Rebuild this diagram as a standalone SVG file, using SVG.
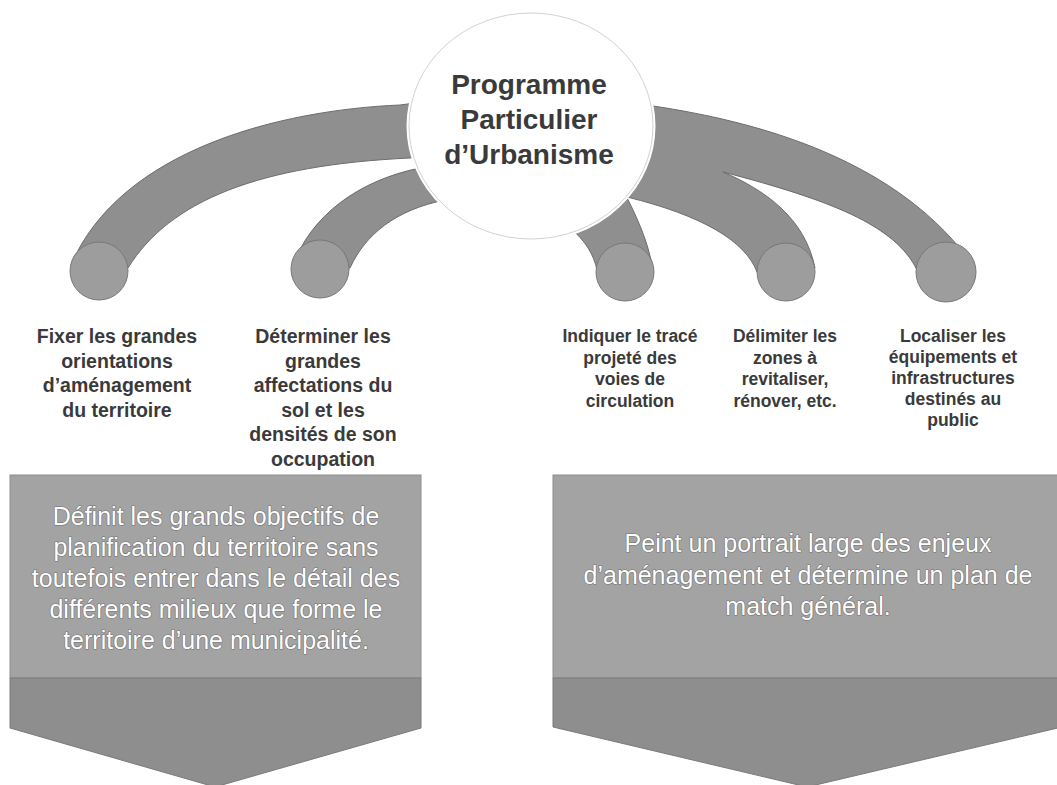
<svg xmlns="http://www.w3.org/2000/svg" width="1057" height="785" viewBox="0 0 1057 785">
  <style>
    .band { fill: #8f8f8f; stroke: #6c6c6c; stroke-width: 1; }
    .ball { fill: #9d9d9d; stroke: #787878; stroke-width: 1; }
    .lbl { font-family: "Liberation Sans", Arial, sans-serif; font-weight: bold; fill: #3a3a3a; text-anchor: middle; }
    .l1 { font-size: 19.5px; }
    .l2 { font-size: 17.5px; }
    .title { font-family: "Liberation Sans", Arial, sans-serif; font-weight: bold; font-size: 28px; fill: #3a3a3a; text-anchor: middle; }
    .boxtop { fill: #a3a3a3; stroke: #8e8e8e; stroke-width: 1; }
    .boxbot { fill: #8e8e8e; stroke: #7a7a7a; stroke-width: 1; }
    .boxtxt { font-family: "Liberation Sans", Arial, sans-serif; font-size: 25px; fill: #ffffff; stroke: #707070; stroke-width: 1.2px; paint-order: stroke; stroke-linejoin: round; text-anchor: middle; }
  </style>
  <rect width="1057" height="785" fill="#ffffff"/>

  <g id="connectors">
    <path class="band" d="M430,101 L400,105 C280,110 120,150 71,265 L128,268 C170,200 260,165 410,158 L430,157 Z"/>
    <path class="band" d="M430,167 L420,168 C360,180 310,215 292,268 L350,268 C365,235 395,210 445,200 L460,190 Z"/>
    <path class="band" d="M575,215 L622,188 C636,215 648,240 653,270 L597,270 C594,255 585,240 570,228 Z"/>
    <path class="band" d="M620,100 L653,106 C760,122 900,160 975,268 L917,270 C895,225 830,200 723,172 C765,190 805,218 815,268 L757,272 C745,240 700,215 627,197 L600,200 Z"/>
    <circle class="ball" cx="99" cy="271" r="29"/>
    <circle class="ball" cx="320" cy="269" r="29"/>
    <circle class="ball" cx="625" cy="272" r="29"/>
    <circle class="ball" cx="786" cy="272" r="29"/>
    <circle class="ball" cx="946" cy="272" r="30"/>
  </g>

  <g id="center">
    <ellipse cx="531" cy="126" rx="122" ry="113" fill="#ffffff" stroke="#ffffff" stroke-width="5"/>
    <ellipse cx="531" cy="126" rx="122" ry="113" fill="none" stroke="#d2d2d2" stroke-width="1"/>
    <text class="title" x="529" y="94">Programme</text>
    <text class="title" x="529" y="129">Particulier</text>
    <text class="title" x="529" y="164">d’Urbanisme</text>
  </g>

  <g id="label1">
    <text class="lbl l1" x="117" y="343">Fixer les grandes</text>
    <text class="lbl l1" x="117" y="367.5">orientations</text>
    <text class="lbl l1" x="117" y="392">d’aménagement</text>
    <text class="lbl l1" x="117" y="416.5">du territoire</text>
  </g>
  <g id="label2">
    <text class="lbl l1" x="323" y="343">Déterminer les</text>
    <text class="lbl l1" x="323" y="367.5">grandes</text>
    <text class="lbl l1" x="323" y="392">affectations du</text>
    <text class="lbl l1" x="323" y="416.5">sol et les</text>
    <text class="lbl l1" x="323" y="441">densités de son</text>
    <text class="lbl l1" x="323" y="465.5">occupation</text>
  </g>
  <g id="label3">
    <text class="lbl l2" x="630" y="342">Indiquer le tracé</text>
    <text class="lbl l2" x="630" y="363.5">projeté des</text>
    <text class="lbl l2" x="630" y="385">voies de</text>
    <text class="lbl l2" x="630" y="406.5">circulation</text>
  </g>
  <g id="label4">
    <text class="lbl l2" x="785" y="342">Délimiter les</text>
    <text class="lbl l2" x="785" y="363.5">zones à</text>
    <text class="lbl l2" x="785" y="385">revitaliser,</text>
    <text class="lbl l2" x="785" y="406.5">rénover, etc.</text>
  </g>
  <g id="label5">
    <text class="lbl l2" x="953" y="342">Localiser les</text>
    <text class="lbl l2" x="953" y="363">équipements et</text>
    <text class="lbl l2" x="953" y="384">infrastructures</text>
    <text class="lbl l2" x="953" y="405">destinés au</text>
    <text class="lbl l2" x="953" y="426">public</text>
  </g>

  <g id="box-left">
    <rect class="boxtop" x="10" y="475" width="411" height="203"/>
    <path class="boxbot" d="M10,678 H421 V728 L215,787 L10,728 Z"/>
    <text class="boxtxt" x="216" y="525">Définit les grands objectifs de</text>
    <text class="boxtxt" x="216" y="556">planification du territoire sans</text>
    <text class="boxtxt" x="216" y="587">toutefois entrer dans le détail des</text>
    <text class="boxtxt" x="216" y="618">différents milieux que forme le</text>
    <text class="boxtxt" x="216" y="649">territoire d’une municipalité.</text>
  </g>

  <g id="box-right">
    <rect class="boxtop" x="553" y="475" width="510" height="203"/>
    <path class="boxbot" d="M553,678 H1062 V727 L807,787 L553,727 Z"/>
    <text class="boxtxt" x="808" y="552">Peint un portrait large des enjeux</text>
    <text class="boxtxt" x="808" y="584">d’aménagement et détermine un plan de</text>
    <text class="boxtxt" x="808" y="615">match général.</text>
  </g>
</svg>
